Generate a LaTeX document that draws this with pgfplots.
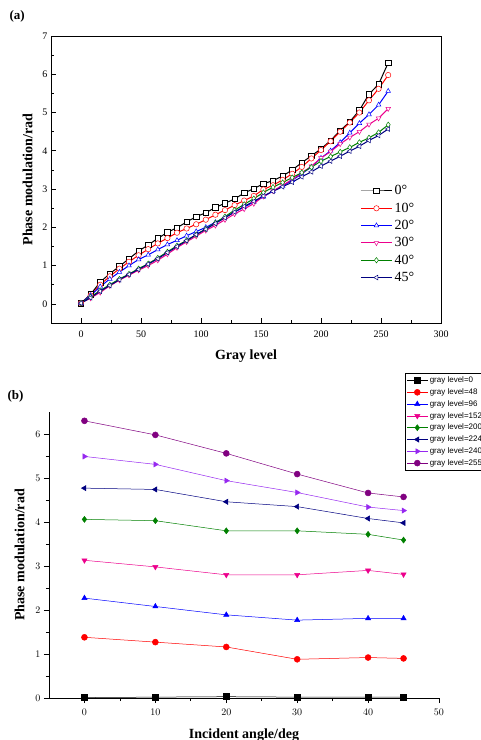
\documentclass[border=0pt]{standalone}
\usepackage{fontspec}
\setmainfont{Liberation Serif}
\setsansfont{Liberation Sans}
\usepackage{pgfplots}
\pgfplotsset{compat=1.18}
\definecolor{dgreen}{RGB}{0,128,0}
\definecolor{navy}{RGB}{0,0,128}
\definecolor{violetb}{RGB}{150,40,240}
\definecolor{purp}{RGB}{128,0,128}
\begin{document}
\begin{tikzpicture}
\path[use as bounding box] (0pt,0pt) rectangle (480pt,-740pt);
\node[anchor=west,font=\bfseries\fontsize{13}{13}\selectfont] at (6pt,-16pt) {(a)};
\node[anchor=west,font=\bfseries\fontsize{13}{13}\selectfont] at (4pt,-396pt) {(b)};
\begin{axis}[
  at={(51pt,-323pt)}, anchor=south west, width=390pt, height=287pt, scale only axis,
  xmin=-25, xmax=300, ymin=-0.5, ymax=7,
  xtick={0,50,...,300}, ytick={0,1,...,7},
  minor x tick num=1, minor y tick num=1,
  tick align=inside, tick pos=left,
  major tick length=5pt, minor tick length=3pt,
  axis line style={line width=1pt}, every tick/.style={line width=0.7pt},
  /pgf/number format/assume math mode=true,
  ticklabel style={font=\fontsize{10}{10}\selectfont},
  xticklabel style={yshift=-4pt},
  xlabel={\bfseries Gray level}, ylabel={\bfseries Phase modulation/rad},
  label style={font=\bfseries\fontsize{14}{14}\selectfont},
  xlabel style={yshift=-6pt}, ylabel style={yshift=3pt},
  every axis plot/.append style={line width=1pt, mark size=2.7pt},
  legend style={draw=none, fill=none, at={(0.79,0.49)}, anchor=north west,
    font=\fontsize{14}{14}\selectfont, row sep=2.5pt, inner sep=1pt},
  legend cell align=left,
  legend image code/.code={\draw[mark repeat=2,mark phase=2] plot coordinates {(0cm,0cm)(0.55cm,0cm)(1.1cm,0cm)};},
]
\addplot[black, mark=square*, mark options={fill=white, line width=0.5pt, solid}] coordinates {(0,0.02)(8,0.25)(16,0.57)(24,0.79)(32,0.98)(40,1.18)(48,1.38)(56,1.54)(64,1.71)(72,1.87)(80,1.99)(88,2.14)(96,2.28)(104,2.38)(112,2.52)(120,2.63)(128,2.74)(136,2.90)(144,3.01)(152,3.14)(160,3.22)(168,3.34)(176,3.50)(184,3.69)(192,3.87)(200,4.05)(208,4.27)(216,4.53)(224,4.76)(232,5.06)(240,5.48)(248,5.74)(256,6.30)};
\addlegendentry{0°}
\addplot[red, mark=*, mark options={fill=white, line width=0.5pt, solid}] coordinates {(0,0.02)(8,0.22)(16,0.50)(24,0.72)(32,0.92)(40,1.10)(48,1.27)(56,1.43)(64,1.58)(72,1.72)(80,1.86)(88,1.97)(96,2.08)(104,2.20)(112,2.33)(120,2.45)(128,2.58)(136,2.70)(144,2.82)(152,2.99)(160,3.10)(168,3.24)(176,3.40)(184,3.58)(192,3.80)(200,4.02)(208,4.25)(216,4.50)(224,4.74)(232,5.00)(240,5.32)(248,5.62)(256,5.98)};
\addlegendentry{10°}
\addplot[blue, mark=triangle*, mark options={fill=white, line width=0.5pt, solid}] coordinates {(0,0.02)(8,0.22)(16,0.45)(24,0.65)(32,0.83)(40,1.00)(48,1.16)(56,1.28)(64,1.42)(72,1.55)(80,1.66)(88,1.78)(96,1.89)(104,2.00)(112,2.13)(120,2.26)(128,2.40)(136,2.53)(144,2.66)(152,2.80)(160,2.95)(168,3.08)(176,3.23)(184,3.40)(192,3.58)(200,3.81)(208,4.00)(216,4.22)(224,4.47)(232,4.72)(240,4.95)(248,5.20)(256,5.56)};
\addlegendentry{20°}
\addplot[magenta, mark=triangle*, mark options={rotate=180, fill=white, line width=0.5pt, solid}] coordinates {(0,0.02)(8,0.15)(16,0.30)(24,0.47)(32,0.62)(40,0.75)(48,0.88)(56,1.00)(64,1.14)(72,1.30)(80,1.47)(88,1.62)(96,1.77)(104,1.92)(112,2.05)(120,2.20)(128,2.35)(136,2.48)(144,2.62)(152,2.81)(160,2.95)(168,3.10)(176,3.25)(184,3.42)(192,3.60)(200,3.81)(208,3.98)(216,4.18)(224,4.35)(232,4.50)(240,4.69)(248,4.85)(256,5.10)};
\addlegendentry{30°}
\addplot[dgreen, mark=diamond*, mark options={fill=white, line width=0.5pt, solid}] coordinates {(0,0.02)(8,0.18)(16,0.35)(24,0.50)(32,0.65)(40,0.78)(48,0.92)(56,1.05)(64,1.20)(72,1.36)(80,1.52)(88,1.66)(96,1.81)(104,1.96)(112,2.12)(120,2.28)(128,2.45)(136,2.60)(144,2.75)(152,2.91)(160,3.05)(168,3.17)(176,3.30)(184,3.43)(192,3.57)(200,3.73)(208,3.85)(216,3.97)(224,4.09)(232,4.22)(240,4.34)(248,4.48)(256,4.68)};
\addlegendentry{40°}
\addplot[navy, mark=triangle*, mark options={rotate=90, fill=white, line width=0.5pt, solid}] coordinates {(0,0.02)(8,0.16)(16,0.33)(24,0.48)(32,0.63)(40,0.77)(48,0.90)(56,1.04)(64,1.18)(72,1.34)(80,1.50)(88,1.65)(96,1.81)(104,1.95)(112,2.10)(120,2.25)(128,2.40)(136,2.55)(144,2.68)(152,2.82)(160,2.94)(168,3.06)(176,3.18)(184,3.32)(192,3.45)(200,3.60)(208,3.73)(216,3.86)(224,3.99)(232,4.12)(240,4.27)(248,4.40)(256,4.57)};
\addlegendentry{45°}
\end{axis}
\begin{axis}[
  at={(49pt,-698pt)}, anchor=south west, width=390pt, height=286pt, scale only axis,
  xmin=-5, xmax=50, ymin=0, ymax=6.5,
  xtick={0,10,...,50}, ytick={0,1,...,6},
  minor x tick num=1, minor y tick num=1,
  axis x line=bottom, axis y line=left, axis line style={-, line width=0.9pt},
  tick align=outside, major tick length=5pt, minor tick length=3pt,
  every tick/.style={line width=0.7pt},
  ticklabel style={font=\sffamily\fontsize{10}{10}\selectfont},
  xticklabel style={yshift=-3pt},
  xlabel={\bfseries Incident angle/deg}, ylabel={\bfseries Phase modulation/rad},
  label style={font=\bfseries\fontsize{14}{14}\selectfont},
  xlabel style={yshift=-6pt}, ylabel style={yshift=4pt},
  every axis plot/.append style={line width=0.5pt, mark size=3pt, mark options={solid}},
  legend style={draw=black, line width=0.5pt, fill=white, at={(0.913,1.136)}, anchor=north west,
    font=\sffamily\fontsize{8}{8}\selectfont, row sep=0.5pt, inner sep=1.5pt},
  legend cell align=left,
  legend image code/.code={\draw[mark repeat=2,mark phase=2] plot coordinates {(0cm,0cm)(0.36cm,0cm)(0.72cm,0cm)};},
]
\addplot[black, mark=square*] coordinates {(0,0.01)(10,0.02)(20,0.03)(30,0.02)(40,0.02)(45,0.02)};
\addlegendentry{gray level=0}
\addplot[red, mark=*] coordinates {(0,1.38)(10,1.27)(20,1.16)(30,0.88)(40,0.92)(45,0.90)};
\addlegendentry{gray level=48}
\addplot[blue, mark=triangle*] coordinates {(0,2.27)(10,2.08)(20,1.89)(30,1.77)(40,1.81)(45,1.81)};
\addlegendentry{gray level=96}
\addplot[magenta, mark=triangle*, mark options={rotate=180}] coordinates {(0,3.13)(10,2.98)(20,2.80)(30,2.80)(40,2.90)(45,2.81)};
\addlegendentry{gray level=152}
\addplot[dgreen, mark=diamond*] coordinates {(0,4.06)(10,4.03)(20,3.80)(30,3.80)(40,3.72)(45,3.59)};
\addlegendentry{gray level=200}
\addplot[navy, mark=triangle*, mark options={rotate=90}] coordinates {(0,4.77)(10,4.74)(20,4.46)(30,4.35)(40,4.08)(45,3.98)};
\addlegendentry{gray level=224}
\addplot[violetb, mark=triangle*, mark options={rotate=-90}] coordinates {(0,5.49)(10,5.31)(20,4.94)(30,4.67)(40,4.34)(45,4.26)};
\addlegendentry{gray level=240}
\addplot[purp, mark=*] coordinates {(0,6.30)(10,5.98)(20,5.56)(30,5.09)(40,4.66)(45,4.57)};
\addlegendentry{gray level=255}
\end{axis}
\end{tikzpicture}
\end{document}
